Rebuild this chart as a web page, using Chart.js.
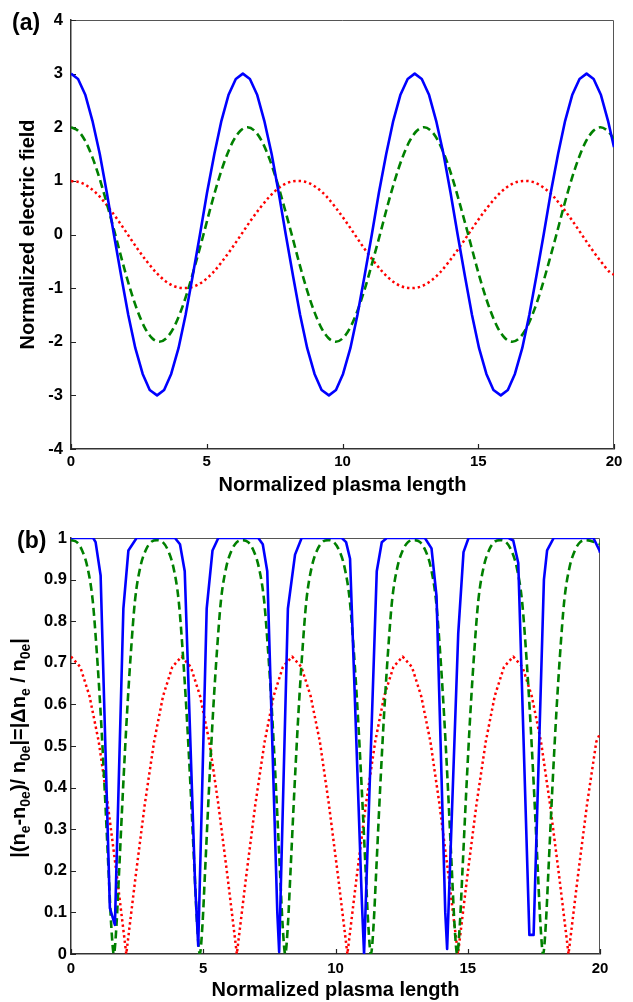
<!DOCTYPE html>
<html>
<head>
<meta charset="utf-8">
<script src="https://cdn.jsdelivr.net/npm/chart.js@4.4.1/dist/chart.umd.min.js"></script>
<style>
  body { margin: 0; background: #fff; }
  #wrap { position: relative; width: 633px; height: 1002px; font-family: 'Liberation Sans', Arial, sans-serif; }
  canvas { position: absolute; left: 0; }
  .panel { position: absolute; font-weight: bold; font-size: 23px; line-height: 23px; }
  #ylabB {
    position: absolute; left: 18px; top: 748px; white-space: nowrap;
    font-weight: bold; font-size: 20px; line-height: 20px;
    transform: translate(-50%, -50%) rotate(-90deg);
  }
  #ylabB sub { font-size: 14px; vertical-align: -5px; line-height: 0; }
</style>
</head>
<body>
<div id="wrap">
  <canvas id="chartA" width="633" height="500" style="top:0"></canvas>
  <canvas id="chartB" width="633" height="502" style="top:500px"></canvas>
  <div class="panel" style="left:12px;top:11px">(a)</div>
  <div class="panel" style="left:17px;top:529px">(b)</div>
  <div id="ylabB">|(n<sub>e</sub>-n<sub>0e</sub>)/ n<sub>0e</sub>|=|&Delta;n<sub>e</sub> / n<sub>0e</sub>|</div>
</div>
<script>
// panel (a): normalized electric field
const blueAX = [0, 0.26, 0.53, 0.79, 1.06, 1.32, 1.58, 1.85, 2.11, 2.37, 2.64, 2.90, 3.17, 3.43, 3.69, 3.96, 4.22, 4.48, 4.75, 5.01, 5.28, 5.54, 5.80, 6.07,
  6.33, 6.59, 6.86, 7.12, 7.39, 7.65, 7.91, 8.18, 8.44, 8.70, 8.97, 9.23, 9.50, 9.76, 10.02, 10.29, 10.55, 10.81, 11.08, 11.34, 11.61, 11.87, 12.13, 12.40,
  12.66, 12.92, 13.19, 13.45, 13.72, 13.98, 14.24, 14.51, 14.77, 15.03, 15.30, 15.56, 15.83, 16.09, 16.35, 16.62, 16.88, 17.14, 17.41, 17.67, 17.94, 18.20, 18.46, 18.73,
  18.99, 19.25, 19.52, 19.78, 20];
const blueAY = [3, 2.9, 2.6, 2.12, 1.5, 0.78, 0, -0.78, -1.5, -2.12, -2.6, -2.9, -3, -2.9, -2.6, -2.12, -1.5, -0.78, 0, 0.78, 1.5, 2.12, 2.6, 2.9,
  3, 2.9, 2.6, 2.12, 1.5, 0.78, 0, -0.78, -1.5, -2.12, -2.6, -2.9, -3, -2.9, -2.6, -2.12, -1.5, -0.78, 0, 0.78, 1.5, 2.12, 2.6, 2.9,
  3, 2.9, 2.6, 2.12, 1.5, 0.78, 0, -0.78, -1.5, -2.12, -2.6, -2.9, -3, -2.9, -2.6, -2.12, -1.5, -0.78, 0, 0.78, 1.5, 2.12, 2.6, 2.9,
  3, 2.9, 2.6, 2.12, 1.63];

const greenAX = [0, 0.27, 0.54, 0.81, 1.08, 1.35, 1.63, 1.90, 2.17, 2.44, 2.71, 2.98, 3.25, 3.52, 3.79, 4.06, 4.33, 4.60, 4.88, 5.15, 5.42, 5.69, 5.96, 6.23,
  6.50, 6.77, 7.04, 7.31, 7.58, 7.85, 8.13, 8.40, 8.67, 8.94, 9.21, 9.48, 9.75, 10.02, 10.29, 10.56, 10.83, 11.10, 11.38, 11.65, 11.92, 12.19, 12.46, 12.73,
  13.00, 13.27, 13.54, 13.81, 14.08, 14.35, 14.63, 14.90, 15.17, 15.44, 15.71, 15.98, 16.25, 16.52, 16.79, 17.06, 17.33, 17.60, 17.88, 18.15, 18.42, 18.69, 18.96, 19.23,
  19.50, 19.77, 20];
const greenAY = [2, 1.93, 1.73, 1.41, 1, 0.52, 0, -0.52, -1, -1.41, -1.73, -1.93, -2, -1.93, -1.73, -1.41, -1, -0.52, 0, 0.52, 1, 1.41, 1.73, 1.93,
  2, 1.93, 1.73, 1.41, 1, 0.52, 0, -0.52, -1, -1.41, -1.73, -1.93, -2, -1.93, -1.73, -1.41, -1, -0.52, 0, 0.52, 1, 1.41, 1.73, 1.93,
  2, 1.93, 1.73, 1.41, 1, 0.52, 0, -0.52, -1, -1.41, -1.73, -1.93, -2, -1.93, -1.73, -1.41, -1, -0.52, 0, 0.52, 1, 1.41, 1.73, 1.93,
  2, 1.93, 1.78];

// red curve shares its x samples between both panels
const redX = [0, 0.35, 0.70, 1.05, 1.39, 1.74, 2.09, 2.44, 2.79, 3.14, 3.48, 3.83, 4.18, 4.53, 4.88, 5.23, 5.57, 5.92, 6.27, 6.62, 6.97, 7.32, 7.66, 8.01,
  8.36, 8.71, 9.06, 9.41, 9.75, 10.10, 10.45, 10.80, 11.15, 11.50, 11.84, 12.19, 12.54, 12.89, 13.24, 13.59, 13.93, 14.28, 14.63, 14.98, 15.33, 15.68, 16.02, 16.37,
  16.72, 17.07, 17.42, 17.77, 18.11, 18.46, 18.81, 19.16, 19.51, 19.86, 20];
const redAY = [1, 0.97, 0.87, 0.71, 0.5, 0.26, 0, -0.26, -0.5, -0.71, -0.87, -0.97, -1, -0.97, -0.87, -0.71, -0.5, -0.26, 0, 0.26, 0.5, 0.71, 0.87, 0.97,
  1, 0.97, 0.87, 0.71, 0.5, 0.26, 0, -0.26, -0.5, -0.71, -0.87, -0.97, -1, -0.97, -0.87, -0.71, -0.5, -0.26, 0, 0.26, 0.5, 0.71, 0.87, 0.97,
  1, 0.97, 0.87, 0.71, 0.5, 0.26, 0, -0.26, -0.5, -0.71, -0.75];

// panel (b): |dn/n0|
const blueBX = [0, 0.84, 0.93, 1.12, 1.47, 1.66, 1.98, 2.17, 2.48,
  3.93, 4.12, 4.30, 4.69, 4.81, 5.13, 5.35, 5.57,
  7.08, 7.25, 7.42, 7.80, 7.87, 8.20, 8.47, 8.72,
  10.24, 10.40, 10.55, 11.00, 11.08, 11.56, 11.75, 11.94,
  13.38, 13.63, 13.82, 14.15, 14.22, 14.64, 14.84, 15.03,
  16.54, 16.72, 16.91, 17.33, 17.49, 17.88, 18.00, 18.25,
  19.75, 19.98, 20];
const blueBY = [1, 1, 0.99, 0.91, 0.11, 0.07, 0.83, 0.97, 1,
  1, 0.985, 0.92, 0.17, 0.02, 0.83, 0.97, 1,
  1, 0.985, 0.92, 0.1, 0.005, 0.83, 0.96, 1,
  1, 0.99, 0.95, 0.12, 0, 0.92, 0.99, 1,
  1, 0.975, 0.86, 0.1, 0.012, 0.77, 0.966, 1,
  1, 0.994, 0.94, 0.046, 0.046, 0.9, 0.97, 1,
  1, 0.97, 0.965];

const greenBX = [0,
  0.22, 0.42, 0.62, 0.82, 0.97, 1.12, 1.27, 1.42, 1.52, 1.62, 1.72, 1.82, 1.97, 2.12, 2.27, 2.42, 2.62, 2.82, 3.02, 3.25,
  3.47, 3.67, 3.87, 4.07, 4.22, 4.37, 4.52, 4.67, 4.77, 4.87, 4.97, 5.07, 5.22, 5.37, 5.52, 5.67, 5.87, 6.07, 6.27, 6.49,
  6.70, 6.90, 7.10, 7.30, 7.45, 7.60, 7.75, 7.90, 8.00, 8.10, 8.20, 8.30, 8.45, 8.60, 8.75, 8.90, 9.10, 9.30, 9.50, 9.72,
  9.94, 10.14, 10.34, 10.54, 10.69, 10.84, 10.99, 11.14, 11.24, 11.34, 11.44, 11.54, 11.69, 11.84, 11.99, 12.14, 12.34, 12.54, 12.74, 12.97,
  13.20, 13.40, 13.60, 13.80, 13.95, 14.10, 14.25, 14.40, 14.50, 14.60, 14.70, 14.80, 14.95, 15.10, 15.25, 15.40, 15.60, 15.80, 16.00, 16.22,
  16.45, 16.65, 16.85, 17.05, 17.20, 17.35, 17.50, 17.65, 17.75, 17.85, 17.95, 18.05, 18.20, 18.35, 18.50, 18.65, 18.85, 19.05, 19.25, 19.47,
  20];
const greenBY = [0.995,
  0.99, 0.97, 0.93, 0.85, 0.73, 0.58, 0.4, 0.2, 0.07, 0, 0.07, 0.2, 0.4, 0.58, 0.73, 0.85, 0.93, 0.97, 0.99, 0.995,
  0.99, 0.97, 0.93, 0.85, 0.73, 0.58, 0.4, 0.2, 0.07, 0, 0.07, 0.2, 0.4, 0.58, 0.73, 0.85, 0.93, 0.97, 0.99, 0.995,
  0.99, 0.97, 0.93, 0.85, 0.73, 0.58, 0.4, 0.2, 0.07, 0, 0.07, 0.2, 0.4, 0.58, 0.73, 0.85, 0.93, 0.97, 0.99, 0.995,
  0.99, 0.97, 0.93, 0.85, 0.73, 0.58, 0.4, 0.2, 0.07, 0, 0.07, 0.2, 0.4, 0.58, 0.73, 0.85, 0.93, 0.97, 0.99, 0.995,
  0.99, 0.97, 0.93, 0.85, 0.73, 0.58, 0.4, 0.2, 0.07, 0, 0.07, 0.2, 0.4, 0.58, 0.73, 0.85, 0.93, 0.97, 0.99, 0.995,
  0.99, 0.97, 0.93, 0.85, 0.73, 0.58, 0.4, 0.2, 0.07, 0, 0.07, 0.2, 0.4, 0.58, 0.73, 0.85, 0.93, 0.97, 0.99, 0.995,
  0.985];

const redBY = [0.715, 0.69, 0.62, 0.51, 0.36, 0.185, 0, 0.185, 0.36, 0.51, 0.62, 0.69,
  0.715, 0.69, 0.62, 0.51, 0.36, 0.185, 0, 0.185, 0.36, 0.51, 0.62, 0.69,
  0.715, 0.69, 0.62, 0.51, 0.36, 0.185, 0, 0.185, 0.36, 0.51, 0.62, 0.69,
  0.715, 0.69, 0.62, 0.51, 0.36, 0.185, 0, 0.185, 0.36, 0.51, 0.62, 0.69,
  0.715, 0.69, 0.62, 0.51, 0.36, 0.185, 0, 0.185, 0.36, 0.51, 0.53];

// tick labels
const xTicks = [0, 5, 10, 15, 20];
const yTicksA = [-4, -3, -2, -1, 0, 1, 2, 3, 4];
const yTicksB = [0, 0.1, 0.2, 0.3, 0.4, 0.5, 0.6, 0.7, 0.8, 0.9, 1];

const xTitle = 'Normalized plasma length';
const yTitleA = 'Normalized electric field';

const FONT = "'Liberation Sans', Arial, sans-serif";
Chart.defaults.font.family = FONT;
Chart.defaults.color = '#000';

const pts = (xs, ys) => xs.map((x, i) => ({ x, y: ys[i] }));
const fixTicks = list => s => { s.ticks = list.map(v => ({ value: v })); };
const fmt = v => String(Number(Number(v).toFixed(2)));

// box around the plot + MATLAB style inward ticks
const frame = {
  id: 'frame',
  beforeDatasetsDraw(chart) {
    const { ctx, chartArea: a, scales: { x, y } } = chart;
    ctx.save();
    ctx.strokeStyle = '#555';
    ctx.lineWidth = 1;
    ctx.beginPath();
    ctx.moveTo(a.left, a.top + 0.5);
    ctx.lineTo(a.right - 0.5, a.top + 0.5);
    ctx.lineTo(a.right - 0.5, a.bottom);
    ctx.stroke();
    ctx.strokeStyle = '#222';
    ctx.lineWidth = 1.2;
    ctx.beginPath();
    x.ticks.forEach(t => {
      const p = Math.round(x.getPixelForValue(t.value)) + 0.5;
      ctx.moveTo(p, a.bottom);
      ctx.lineTo(p, a.bottom - 5);
    });
    y.ticks.forEach(t => {
      const p = Math.round(y.getPixelForValue(t.value)) + 0.5;
      ctx.moveTo(a.left, p);
      ctx.lineTo(a.left + 5, p);
    });
    ctx.stroke();
    ctx.restore();
  }
};

function line(data, color, dash, width, mode) {
  return {
    data, borderColor: color, borderWidth: width, borderDash: dash,
    pointRadius: 0, fill: false, tension: 0, borderJoinStyle: 'round',
    cubicInterpolationMode: mode || 'default'
  };
}

function options(cfg) {
  return {
    responsive: false, maintainAspectRatio: false, animation: false,
    layout: { padding: cfg.pad },
    plugins: { legend: { display: false }, tooltip: { enabled: false } },
    scales: {
      x: {
        type: 'linear', min: 0, max: 20,
        afterBuildTicks: fixTicks(xTicks),
        ticks: { padding: cfg.xTickPad, maxRotation: 0, autoSkip: false, callback: fmt, font: { size: 15, weight: 'bold' }, color: '#000' },
        grid: { display: false, drawTicks: false },
        border: { display: true, color: '#333', width: 1.5 },
        title: { display: true, text: xTitle, font: { size: 20, weight: 'bold' }, color: '#000', padding: { top: 0, bottom: cfg.xTitlePad } },
        afterFit: s => { s.height = cfg.xH; }
      },
      y: {
        min: cfg.yTicks[0], max: cfg.yTicks[cfg.yTicks.length - 1],
        afterBuildTicks: fixTicks(cfg.yTicks),
        ticks: { padding: cfg.yTickPad, autoSkip: false, callback: fmt, font: { size: 16.5, weight: 'bold' }, color: '#000' },
        grid: { display: false, drawTicks: false },
        border: { display: true, color: '#333', width: 1.5 },
        title: { display: !!cfg.yTitle, text: cfg.yTitle, font: { size: 20, weight: 'bold' }, color: '#000', padding: { top: 16, bottom: 0 } },
        afterFit: s => { s.width = 71; }
      }
    }
  };
}

new Chart(document.getElementById('chartA'), {
  type: 'line',
  data: {
    datasets: [
      line(pts(blueAX, blueAY), '#0000ff', [], 2.6),
      line(pts(greenAX, greenAY), '#008000', [8, 4.5], 2.6, 'monotone'),
      line(pts(redX, redAY), '#ff0000', [2.4, 3], 2.5, 'monotone')
    ]
  },
  options: options({ pad: { top: 20, right: 19, left: 0, bottom: 0 }, xH: 51, xTickPad: 4, xTitlePad: 3,
    yTicks: yTicksA, yTickPad: 8, yTitle: yTitleA }),
  plugins: [frame]
});

new Chart(document.getElementById('chartB'), {
  type: 'line',
  data: {
    datasets: [
      line(pts(blueBX, blueBY), '#0000ff', [], 2.6),
      line(pts(greenBX, greenBY), '#008000', [8, 4.5], 2.6, 'monotone'),
      line(pts(redX, redBY), '#ff0000', [2.4, 3], 2.5)
    ]
  },
  options: options({ pad: { top: 38, right: 33, left: 0, bottom: 0 }, xH: 48, xTickPad: 6, xTitlePad: 0,
    yTicks: yTicksB, yTickPad: 4, yTitle: '' }),
  plugins: [frame]
});
</script>
</body>
</html>
